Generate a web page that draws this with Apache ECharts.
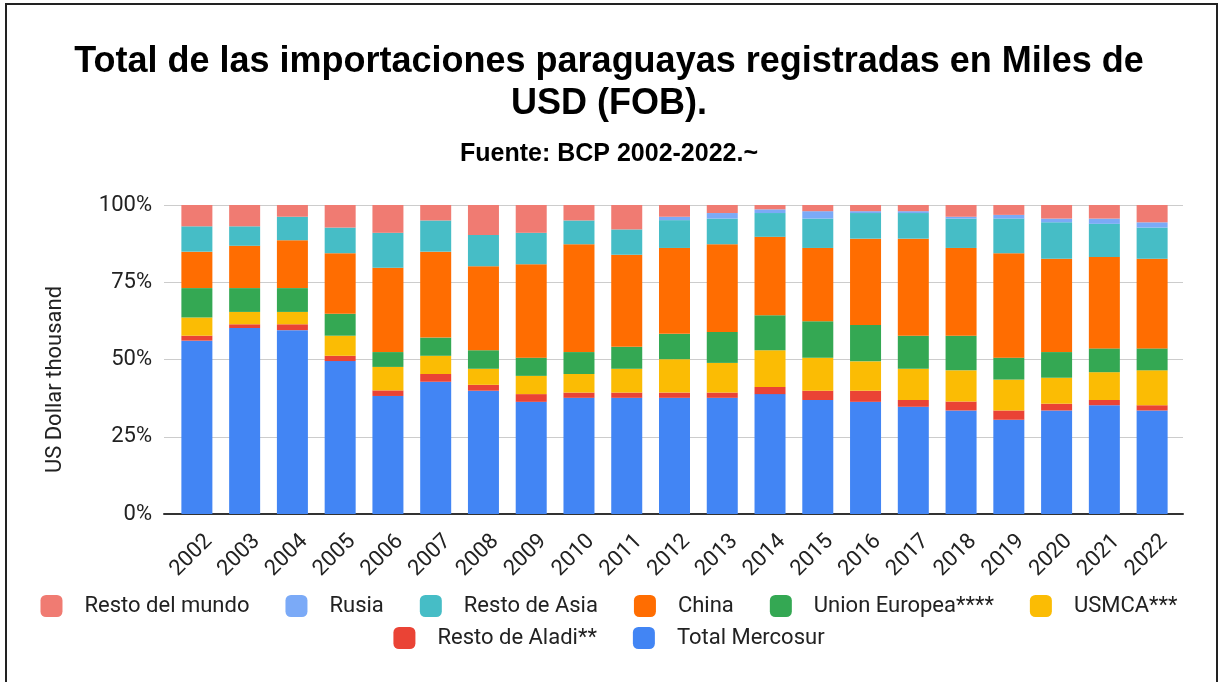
<!DOCTYPE html>
<html>
<head>
<meta charset="utf-8">
<script src="https://cdn.jsdelivr.net/npm/echarts@6/dist/echarts.min.js"></script>
<style>
  html, body { margin: 0; padding: 0; background: #fff; }
  #main { width: 1218px; height: 682px; }
</style>
</head>
<body>
<div id="main"></div>
<script>
// years on the x axis
const years = ['2002', '2003', '2004', '2005', '2006', '2007', '2008', '2009', '2010', '2011',
  '2012', '2013', '2014', '2015', '2016', '2017', '2018', '2019', '2020', '2021', '2022'];

// share of total imports (%)
const totalMercosur = [56.1, 60.2, 59.5, 49.5, 38.2, 42.8, 39.9, 36.3, 37.6, 37.6, 37.6, 37.6, 38.8, 36.9, 36.3, 34.7, 33.5, 30.5, 33.5, 35.2, 33.5];
const restoAladi = [1.6, 1.2, 1.9, 1.7, 1.8, 2.5, 1.9, 2.5, 1.7, 1.7, 1.7, 1.7, 2.3, 3.0, 3.6, 2.2, 2.9, 3.0, 2.2, 1.7, 1.7];
const usmca = [5.9, 4.0, 4.0, 6.5, 7.6, 5.9, 5.2, 5.9, 6.0, 7.7, 10.8, 9.6, 11.9, 10.7, 9.5, 10.1, 10.1, 10.0, 8.4, 9.0, 11.3];
const unionEuropea = [9.5, 7.7, 7.7, 7.1, 4.8, 5.9, 6.0, 5.9, 7.1, 7.1, 8.2, 10.0, 11.3, 11.8, 11.8, 10.7, 11.2, 7.1, 8.3, 7.7, 7.1];
const china = [11.8, 13.7, 15.5, 19.6, 27.3, 27.8, 27.2, 30.2, 34.9, 29.8, 27.8, 28.4, 25.4, 23.7, 27.9, 31.4, 28.4, 33.8, 30.2, 29.6, 29.0];
const restoAsia = [8.2, 6.3, 7.6, 8.3, 11.3, 10.1, 10.1, 10.2, 7.7, 8.2, 9.0, 8.3, 7.7, 9.5, 8.3, 8.3, 9.5, 11.2, 11.8, 10.7, 10.1];
const rusia = [0, 0, 0, 0, 0, 0, 0, 0, 0, 0, 1.1, 1.8, 1.2, 2.4, 0.6, 0.6, 0.6, 1.2, 1.2, 1.7, 1.7];
const restoMundo = [6.9, 6.9, 3.8, 7.3, 9.0, 5.0, 9.7, 9.0, 5.0, 7.9, 3.8, 2.6, 1.4, 2.0, 2.0, 2.0, 3.8, 3.2, 4.4, 4.4, 5.6];

const yTicks = [0, 25, 50, 75, 100];

// bottom to top
const stackOrder = [
  { name: 'Total Mercosur', data: totalMercosur, color: '#4285F4' },
  { name: 'Resto de Aladi**', data: restoAladi, color: '#EA4335' },
  { name: 'USMCA***', data: usmca, color: '#FBBC04' },
  { name: 'Union Europea****', data: unionEuropea, color: '#34A853' },
  { name: 'China', data: china, color: '#FF6D01' },
  { name: 'Resto de Asia', data: restoAsia, color: '#46BDC6' },
  { name: 'Rusia', data: rusia, color: '#7BAAF7' },
  { name: 'Resto del mundo', data: restoMundo, color: '#F07B72' }
];

const labelFont = 'Roboto, "Liberation Sans", Arial, sans-serif';
const titleFont = '"Liberation Sans", Arial, sans-serif';

const legendCommon = {
  left: 'center',
  icon: 'roundRect',
  itemWidth: 22,
  itemHeight: 22,
  itemGap: 36,
  textStyle: { fontFamily: labelFont, fontSize: 22, color: '#222', padding: [0, 0, 0, 17] }
};

const chart = echarts.init(document.getElementById('main'));

const option = {
  backgroundColor: '#fff',
  animation: false,
  title: [
    {
      text: 'Total de las importaciones paraguayas registradas en Miles de\nUSD (FOB).',
      left: 'center',
      top: 41,
      padding: 0,
      textStyle: { fontFamily: titleFont, fontSize: 36, fontWeight: 'bold', color: '#000', lineHeight: 42 }
    },
    {
      text: 'Fuente: BCP 2002-2022.~',
      left: 'center',
      top: 142,
      padding: 0,
      textStyle: { fontFamily: titleFont, fontSize: 25, fontWeight: 'bold', color: '#000' }
    }
  ],
  legend: [
    Object.assign({}, legendCommon, {
      top: 590,
      data: ['Resto del mundo', 'Rusia', 'Resto de Asia', 'China', 'Union Europea****', 'USMCA***']
    }),
    Object.assign({}, legendCommon, {
      top: 622,
      data: ['Resto de Aladi**', 'Total Mercosur']
    })
  ],
  grid: [
    // frame: gridlines, y labels, baseline
    { left: 164, right: 35, top: 205, bottom: 168 },
    // bars
    { left: 173, right: 42, top: 205, bottom: 168 },
    // year labels, shifted a little to the right like the original
    { left: 185, right: 30, top: 205, bottom: 168 }
  ],
  xAxis: [
    {
      gridIndex: 0,
      type: 'value',
      min: 0,
      max: 1,
      axisLine: { show: true, onZero: false, lineStyle: { color: '#333', width: 2 } },
      axisTick: { show: false },
      axisLabel: { show: false },
      splitLine: { show: false }
    },
    {
      gridIndex: 1,
      type: 'category',
      data: years,
      axisLine: { show: false },
      axisTick: { show: false },
      axisLabel: { show: false }
    },
    {
      gridIndex: 2,
      type: 'category',
      data: years,
      axisLine: { show: false },
      axisTick: { show: false },
      axisLabel: {
        rotate: 45,
        margin: 24,
        interval: 0,
        fontFamily: labelFont,
        fontSize: 22,
        color: '#222'
      }
    }
  ],
  yAxis: [
    {
      gridIndex: 0,
      type: 'value',
      min: yTicks[0],
      max: yTicks[yTicks.length - 1],
      interval: 25,
      name: 'US Dollar thousand',
      nameLocation: 'middle',
      nameGap: 98,
      nameTextStyle: { fontFamily: labelFont, fontSize: 22, color: '#222', padding: [0, 40, 0, 0] },
      axisLine: { show: false },
      axisTick: { show: false },
      axisLabel: { margin: 12, fontFamily: labelFont, fontSize: 22, color: '#222', formatter: '{value}%' },
      splitLine: { lineStyle: { color: '#ccc', width: 1 } }
    },
    {
      gridIndex: 1,
      type: 'value',
      min: 0,
      max: 100,
      show: false,
      splitLine: { show: false }
    },
    {
      gridIndex: 2,
      type: 'value',
      min: 0,
      max: 100,
      show: false,
      splitLine: { show: false }
    }
  ],
  series: stackOrder.map(s => ({
    name: s.name,
    type: 'bar',
    stack: 'total',
    xAxisIndex: 1,
    yAxisIndex: 1,
    barWidth: 31,
    data: s.data,
    itemStyle: { color: s.color },
    emphasis: { disabled: true }
  })),
  graphic: [
    {
      type: 'polyline',
      silent: true,
      shape: { points: [[6, 690], [6, 4], [1217, 4], [1217, 690]] },
      style: { fill: null, stroke: '#222', lineWidth: 2 }
    }
  ]
};

chart.setOption(option);
</script>
</body>
</html>
